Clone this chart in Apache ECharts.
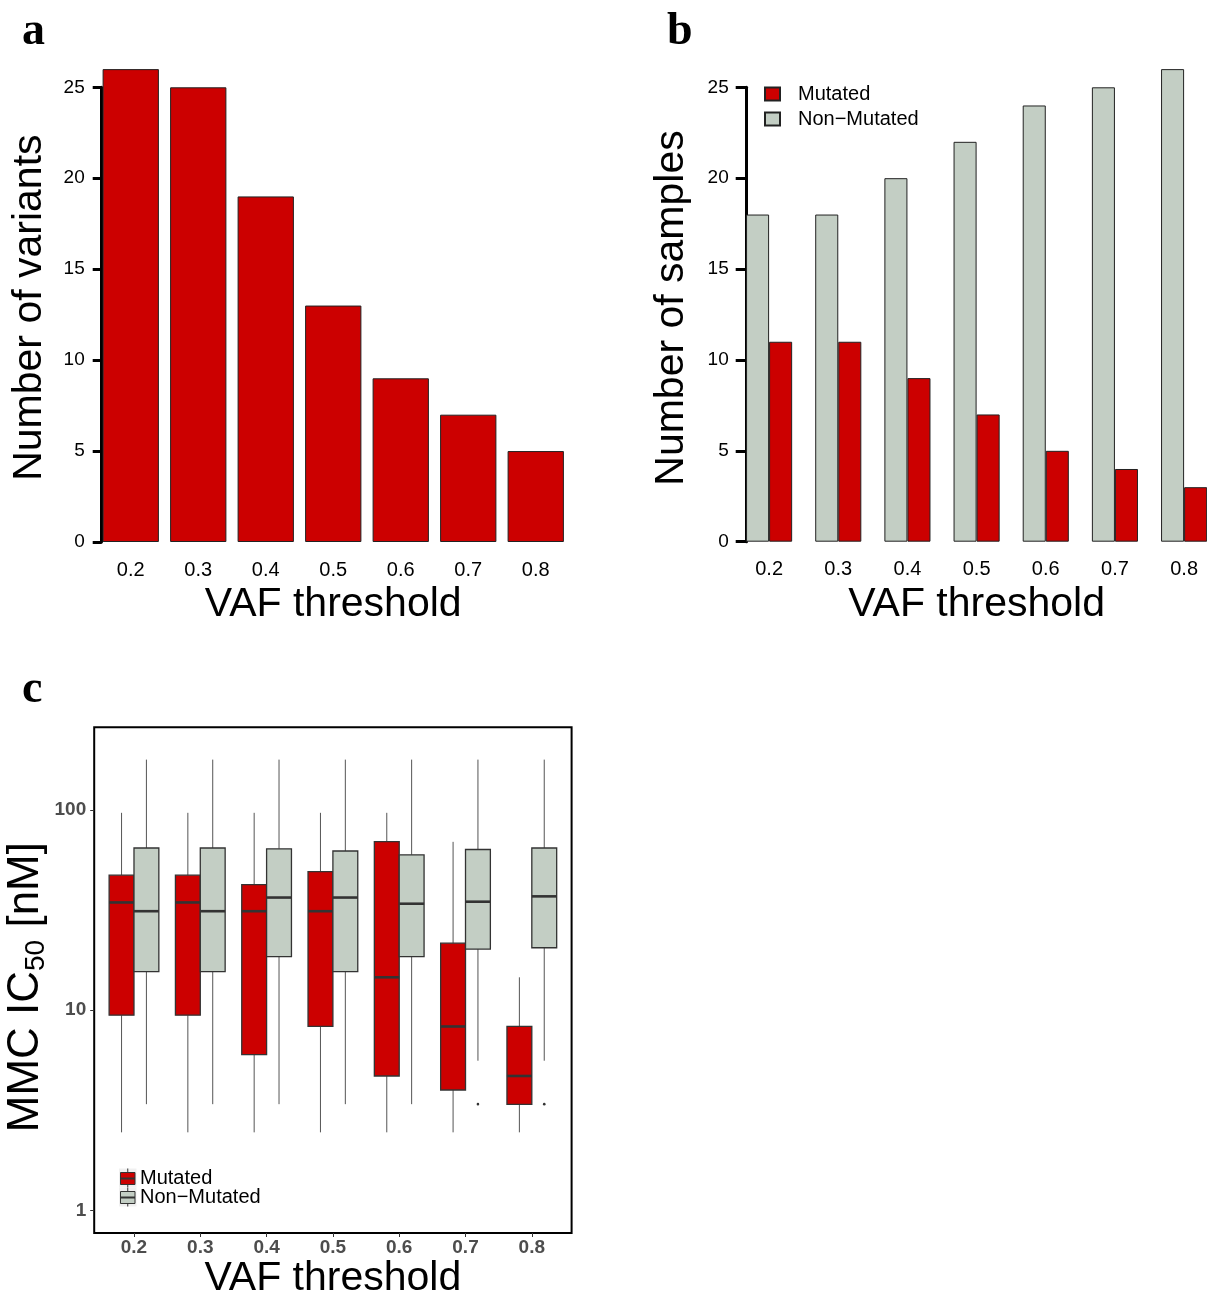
<!DOCTYPE html>
<html>
<head>
<meta charset="utf-8">
<title>VAF threshold</title>
<script src="https://cdn.jsdelivr.net/npm/echarts@6/dist/echarts.min.js"></script>
<style>
    html, body { margin: 0; padding: 0; background: #fff; }
    #main { width: 1207px; height: 1293px; }
</style>
</head>
<body>
<div id="main"></div>
<script type="text/javascript">
    // categories
    var thresholds = ['0.2', '0.3', '0.4', '0.5', '0.6', '0.7', '0.8'];
    var countTicks = [0, 5, 10, 15, 20, 25];
    var logTicks = [1, 10, 100];

    // panel a
    var variantCounts = [26, 25, 19, 13, 9, 7, 5];

    // panel b
    var mutatedSamples = [11, 11, 9, 7, 5, 4, 3];
    var nonMutatedSamples = [18, 18, 20, 22, 24, 25, 26];

    // panel c, [lower whisker, q1, median, q3, upper whisker]
    var mutatedIC50 = [
        [2.46, 9.45, 34.5, 47.2, 96.6],
        [2.46, 9.45, 34.5, 47.2, 96.6],
        [2.46, 6.0, 31.2, 42.3, 96.6],
        [2.46, 8.3, 31.2, 49.2, 96.6],
        [2.46, 4.7, 14.6, 69.4, 96.6],
        [2.46, 4.0, 8.3, 21.6, 69.2],
        [2.46, 3.39, 4.7, 8.3, 14.6]
    ];
    var nonMutatedIC50 = [
        [3.4, 15.6, 31.2, 64.5, 178],
        [3.4, 15.6, 31.2, 64.5, 178],
        [3.4, 18.5, 36.5, 63.9, 178],
        [3.4, 15.6, 36.5, 62.3, 178],
        [3.4, 18.5, 34.0, 59.6, 178],
        [5.6, 20.2, 34.8, 63.4, 178],
        [5.6, 20.5, 37.0, 64.5, 178]
    ];
    var outlierThresholds = ['0.7', '0.8'];
    var outlierIC50 = [3.4, 3.4];

    var RED = '#CC0000';
    var GREY = '#C3CEC4';
    var FONT = 'Liberation Sans, Arial, sans-serif';

    function boxRenderer(side, fill) {
        return function (params, api) {
            var x = api.value(0);
            var mid = x + side * 0.1875;
            var pMin = api.coord([mid, api.value(1)]);
            var pQ1 = api.coord([mid, api.value(2)]);
            var pMed = api.coord([mid, api.value(3)]);
            var pQ3 = api.coord([mid, api.value(4)]);
            var pMax = api.coord([mid, api.value(5)]);
            var xa = api.coord([x, 1])[0];
            var xb = api.coord([x + side * 0.375, 1])[0];
            var left = Math.min(xa, xb), w = Math.abs(xb - xa);
            return {
                type: 'group',
                children: [
                    { type: 'line', shape: { x1: pMin[0], y1: pMin[1], x2: pQ1[0], y2: pQ1[1] }, style: { stroke: '#555', lineWidth: 1 } },
                    { type: 'line', shape: { x1: pQ3[0], y1: pQ3[1], x2: pMax[0], y2: pMax[1] }, style: { stroke: '#555', lineWidth: 1 } },
                    { type: 'rect', shape: { x: left, y: pQ3[1], width: w, height: pQ1[1] - pQ3[1] }, style: { fill: fill, stroke: '#333', lineWidth: 1.3 } },
                    { type: 'line', shape: { x1: left, y1: pMed[1], x2: left + w, y2: pMed[1] }, style: { stroke: '#333', lineWidth: 2.6 } }
                ]
            };
        };
    }

    function boxData(stats) {
        return stats.map(function (s, i) { return [i + 1].concat(s); });
    }

    var titleStyle = { fontSize: 41, color: '#000', fontFamily: FONT };

    var myChart = echarts.init(document.getElementById('main'), null, { renderer: 'canvas' });
    var option = {
        backgroundColor: '#fff',
        animation: false,
        textStyle: { fontFamily: FONT },
        grid: [
            { left: 97, top: 87.3, width: 472.5, height: 454.7, outerBoundsMode: 'none' },
            // category points sit on the grid edges here, first group at the left edge
            { left: 769.1, top: 87.3, width: 415, height: 454.4, outerBoundsMode: 'none' },
            { left: 94.2, top: 727.3, width: 477.4, height: 505.7, outerBoundsMode: 'none', show: true, borderColor: '#000', borderWidth: 2 }
        ],
        legend: {
            data: ['Mutated', 'Non\u2212Mutated'],
            orient: 'vertical',
            left: 764, top: 84,
            padding: 0,
            itemWidth: 15, itemHeight: 13, itemGap: 5,
            icon: 'rect',
            textStyle: { fontSize: 20, color: '#000', lineHeight: 20, padding: [0, 0, 0, 13] }
        },
        xAxis: [
            {
                gridIndex: 0, type: 'category', data: thresholds,
                axisLine: { show: false }, axisTick: { show: false },
                axisLabel: { fontSize: 20, color: '#000', margin: 18 },
                name: 'VAF threshold', nameLocation: 'middle', nameGap: 42, nameTextStyle: titleStyle
            },
            {
                gridIndex: 1, type: 'category', data: thresholds, boundaryGap: false,
                axisLine: { show: false }, axisTick: { show: false },
                axisLabel: { fontSize: 20, color: '#000', margin: 18 },
                name: 'VAF threshold', nameLocation: 'middle', nameGap: 42, nameTextStyle: titleStyle
            },
            {
                gridIndex: 2, type: 'value', min: 0.4, max: 7.6,
                axisLine: { show: false },
                axisTick: { customValues: [1, 2, 3, 4, 5, 6, 7], length: 4, lineStyle: { color: '#333' } },
                axisLabel: {
                    customValues: [1, 2, 3, 4, 5, 6, 7],
                    formatter: function (v) { return thresholds[Math.round(v) - 1]; },
                    fontSize: 19, fontWeight: 'bold', color: '#4d4d4d', margin: 5
                },
                splitLine: { show: false },
                name: 'VAF threshold', nameLocation: 'middle', nameGap: 18, nameTextStyle: titleStyle
            }
        ],
        yAxis: [
            {
                gridIndex: 0, type: 'value', min: 0, max: 25, interval: 5, offset: -4.7,
                axisLine: { show: true, lineStyle: { color: '#000', width: 3 } },
                axisTick: { show: true, length: 9, lineStyle: { color: '#000', width: 3 } },
                axisLabel: { fontSize: 19, color: '#000', margin: 17, customValues: countTicks },
                splitLine: { show: false },
                name: 'Number of variants', nameLocation: 'middle', nameGap: 51.5,
                nameTextStyle: { fontSize: 41, color: '#000', fontFamily: FONT, padding: [0, 0, 0, 14] }
            },
            {
                gridIndex: 1, type: 'value', min: 0, max: 25, interval: 5, offset: 22.4,
                axisLine: { show: true, lineStyle: { color: '#000', width: 3 } },
                axisTick: { show: true, length: 11, lineStyle: { color: '#000', width: 3 } },
                axisLabel: { fontSize: 19, color: '#000', margin: 18, customValues: countTicks },
                splitLine: { show: false },
                name: 'Number of samples', nameLocation: 'middle', nameGap: 55,
                nameTextStyle: { fontSize: 41, color: '#000', fontFamily: FONT, padding: [0, 0, 0, 13] }
            },
            {
                gridIndex: 2, type: 'log', logBase: 10, min: 0.774, max: 258,
                axisLine: { show: false },
                axisTick: { show: true, customValues: logTicks, length: 4, lineStyle: { color: '#333' } },
                axisLabel: { customValues: logTicks, fontSize: 19, fontWeight: 'bold', color: '#4d4d4d', margin: 8 },
                splitLine: { show: false },
                name: 'MMC IC{s|50} [nM]', nameLocation: 'middle', nameGap: 43,
                nameTextStyle: {
                    fontSize: 44, color: '#000', fontFamily: FONT, lineHeight: 50, padding: [0, 14, 0, 0],
                    rich: { s: { fontSize: 28, lineHeight: 28, verticalAlign: 'bottom', color: '#000', fontFamily: FONT } }
                }
            }
        ],
        series: [
            {
                name: 'Variants', type: 'bar', xAxisIndex: 0, yAxisIndex: 0,
                data: variantCounts, barWidth: 56.3, clip: false,
                itemStyle: { color: RED, borderColor: '#222', borderWidth: 1 }
            },
            {
                name: 'Non\u2212Mutated', type: 'bar', xAxisIndex: 1, yAxisIndex: 1,
                data: nonMutatedSamples, barWidth: 23.05, barGap: '0%', clip: false,
                itemStyle: { color: GREY, borderColor: '#222', borderWidth: 1 }
            },
            {
                name: 'Mutated', type: 'bar', xAxisIndex: 1, yAxisIndex: 1,
                data: mutatedSamples, barWidth: 23.05, barGap: '0%', clip: false,
                itemStyle: { color: RED, borderColor: '#222', borderWidth: 1 }
            },
            {
                name: 'IC50 mutated', type: 'custom', xAxisIndex: 2, yAxisIndex: 2,
                renderItem: boxRenderer(-1, RED),
                encode: { x: 0, y: [1, 2, 3, 4, 5] },
                data: boxData(mutatedIC50)
            },
            {
                name: 'IC50 non-mutated', type: 'custom', xAxisIndex: 2, yAxisIndex: 2,
                renderItem: boxRenderer(1, GREY),
                encode: { x: 0, y: [1, 2, 3, 4, 5] },
                data: boxData(nonMutatedIC50)
            },
            {
                name: 'IC50 outliers', type: 'custom', xAxisIndex: 2, yAxisIndex: 2,
                renderItem: function (params, api) {
                    var p = api.coord([api.value(0) + 0.1875, api.value(1)]);
                    return { type: 'circle', shape: { cx: p[0], cy: p[1], r: 1.3 }, style: { fill: '#333' } };
                },
                encode: { x: 0, y: 1 },
                data: outlierThresholds.map(function (t, i) { return [thresholds.indexOf(t) + 1, outlierIC50[i]]; })
            }
        ],
        graphic: [
            { type: 'text', left: 22, top: 9, style: { text: 'a', font: 'bold 46px "Liberation Serif", serif', fill: '#000' } },
            { type: 'text', left: 667, top: 9, style: { text: 'b', font: 'bold 46px "Liberation Serif", serif', fill: '#000' } },
            { type: 'text', left: 22, top: 667, style: { text: 'c', font: 'bold 46px "Liberation Serif", serif', fill: '#000' } },
            // legend of panel c
            {
                type: 'group', left: 118, top: 1166,
                children: [
                    { type: 'rect', shape: { x: 0, y: 0, width: 17.5, height: 19 }, style: { fill: '#f0f0f0' } },
                    { type: 'line', shape: { x1: 8.75, y1: 0, x2: 8.75, y2: 19 }, style: { stroke: '#333', lineWidth: 1 } },
                    { type: 'rect', shape: { x: 1.5, y: 4, width: 14.5, height: 12 }, style: { fill: RED, stroke: '#333', lineWidth: 1 } },
                    { type: 'line', shape: { x1: 1.5, y1: 10, x2: 16, y2: 10 }, style: { stroke: '#333', lineWidth: 2 } },
                    { type: 'rect', shape: { x: 0, y: 19, width: 17.5, height: 19 }, style: { fill: '#f0f0f0' } },
                    { type: 'line', shape: { x1: 8.75, y1: 19, x2: 8.75, y2: 38 }, style: { stroke: '#333', lineWidth: 1 } },
                    { type: 'rect', shape: { x: 1.5, y: 23, width: 14.5, height: 12 }, style: { fill: GREY, stroke: '#333', lineWidth: 1 } },
                    { type: 'line', shape: { x1: 1.5, y1: 29, x2: 16, y2: 29 }, style: { stroke: '#333', lineWidth: 2 } },
                    { type: 'text', x: 21, y: 10, style: { text: 'Mutated', font: '20px ' + FONT, fill: '#000', verticalAlign: 'middle' } },
                    { type: 'text', x: 21, y: 29, style: { text: 'Non\u2212Mutated', font: '20px ' + FONT, fill: '#000', verticalAlign: 'middle' } }
                ]
            }
        ]
    };
    myChart.setOption(option);
</script>
</body>
</html>
